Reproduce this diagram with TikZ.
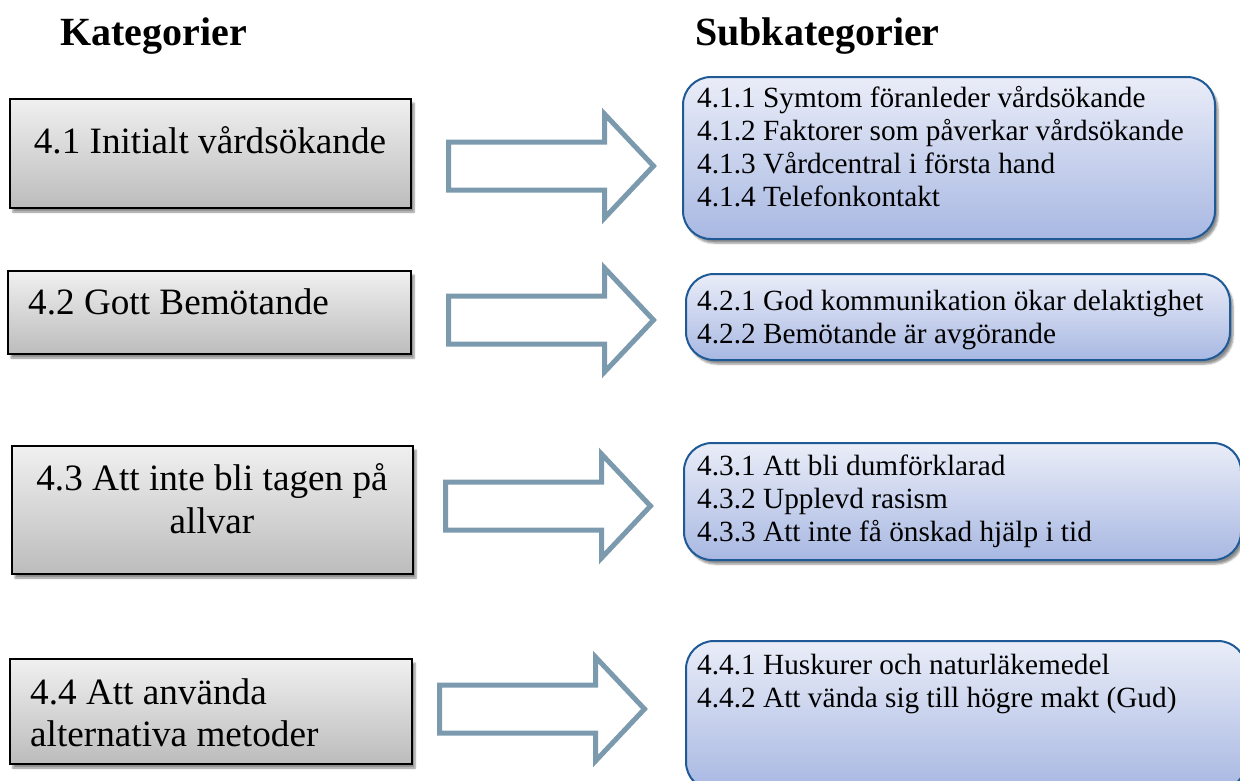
\documentclass[tikz,border=0pt]{standalone}
\usepackage{fontspec}
\setmainfont{Liberation Serif}
\usetikzlibrary{shadows.blur}
\definecolor{arrowc}{HTML}{7C9AAE}
\definecolor{subborder}{HTML}{1F5A96}
\definecolor{subtop}{HTML}{EAEDF8}
\definecolor{subbot}{HTML}{A8B8E2}
\definecolor{cattop}{HTML}{F0F0F0}
\definecolor{catbot}{HTML}{BCBCBC}
\begin{document}
\begin{tikzpicture}[x=1pt,y=-1pt,
  catbox/.style={draw=black, line width=1.8pt, top color=cattop, bottom color=catbot, inner sep=0pt,
    blur shadow={shadow xshift=3pt, shadow yshift=-4pt, shadow blur steps=6, shadow opacity=45}},
  subbox/.style={draw=subborder, line width=2pt, rounded corners=28pt, top color=subtop, bottom color=subbot, inner sep=0pt,
    blur shadow={shadow xshift=3pt, shadow yshift=-4pt, shadow blur steps=6, shadow opacity=45}},
  cattext/.style={font=\fontsize{37.2}{42.5}\selectfont, inner sep=0pt},
  subtext/.style={font=\fontsize{29.3}{33}\selectfont, inner sep=0pt, anchor=base west},
  titletext/.style={font=\fontsize{40}{45}\selectfont\bfseries, inner sep=0pt, anchor=base west},
  blockarr/.pic={\draw[arrowc, line width=5pt, fill=white, line join=miter]
     (0,-24) -- (156,-24) -- (156,-52) -- (205,0) -- (156,52) -- (156,24) -- (0,24) -- cycle;}
]
\useasboundingbox (0,0) rectangle (1240,780);

% titles
\node[titletext] (t1) at (60,45) {Kategorier};
\node[titletext] (t2) at (695,45) {Subkategorier};

% category boxes
\node[catbox, minimum width=401pt, minimum height=109pt] (c1) at (210.5,153.5) {};
\node[catbox, minimum width=403pt, minimum height=83pt] (c2) at (209.5,312.5) {};
\node[catbox, minimum width=401pt, minimum height=128pt] (c3) at (212.5,510) {};
\node[catbox, minimum width=402pt, minimum height=105pt] (c4) at (211,711.5) {};

\node[cattext, anchor=base] (c1t) at (210,153) {4.1 Initialt vårdsökande};
\node[cattext, anchor=base west] (c2t) at (28,314) {4.2 Gott Bemötande};
\node[cattext, anchor=base] (c3a) at (212,490) {4.3 Att inte bli tagen på};
\node[cattext, anchor=base] (c3b) at (212,533) {allvar};
\node[cattext, anchor=base west] (c4a) at (30,704) {4.4 Att använda};
\node[cattext, anchor=base west] (c4b) at (30,746) {alternativa metoder};

% subcategory boxes
\node[subbox, minimum width=532pt, minimum height=162pt] (s1) at (949,158) {};
\node[subbox, minimum width=544pt, minimum height=86pt] (s2) at (958,317) {};
\node[subbox, minimum width=557pt, minimum height=117pt] (s3) at (962.5,501.5) {};
\node[subbox, minimum width=560pt, minimum height=149pt] (s4) at (966,715.5) {};

\node[subtext] (s1a) at (697,107) {4.1.1 Symtom föranleder vårdsökande};
\node[subtext] (s1b) at (697,140) {4.1.2 Faktorer som påverkar vårdsökande};
\node[subtext] (s1c) at (697,173) {4.1.3 Vårdcentral i första hand};
\node[subtext] (s1d) at (697,206) {4.1.4 Telefonkontakt};

\node[subtext] (s2a) at (697,310) {4.2.1 God kommunikation ökar delaktighet};
\node[subtext] (s2b) at (697,343) {4.2.2 Bemötande är avgörande};

\node[subtext] (s3a) at (697,475) {4.3.1 Att bli dumförklarad};
\node[subtext] (s3b) at (697,508) {4.3.2 Upplevd rasism};
\node[subtext] (s3c) at (697,541) {4.3.3 Att inte få önskad hjälp i tid};

\node[subtext] (s4a) at (697,674) {4.4.1 Huskurer och naturläkemedel};
\node[subtext] (s4b) at (697,707) {4.4.2 Att vända sig till högre makt (Gud)};

% block arrows
\pic at (448.5,166) {blockarr};
\pic at (448.5,320) {blockarr};
\pic at (445.5,506) {blockarr};
\pic at (439.5,709) {blockarr};
\end{tikzpicture}
\end{document}
